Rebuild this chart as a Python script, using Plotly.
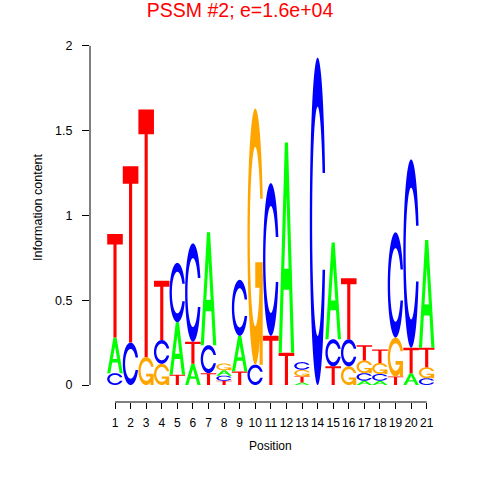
import numpy as np
import plotly.graph_objects as go

# ---------------- data (information content per letter, bits) ----------------
positions = list(range(1, 22))
bits_A = [0.21, 0, 0, 0, 0.31, 0.125, 0.665, 0.032, 0.21, 0, 0, 1.24, 0.015, 0, 0.57, 0, 0.025, 0.025, 0, 0.07, 0.635]
bits_C = [0.07, 0.25, 0, 0.14, 0.35, 0.58, 0.165, 0.03, 0.33, 0.12, 0.9, 0, 0.045, 1.93, 0.16, 0.16, 0.045, 0.04, 0.62, 1.11, 0.04]
bits_G = [0, 0, 0.165, 0.125, 0, 0, 0, 0.04, 0, 1.51, 0, 0, 0.04, 0, 0, 0.11, 0.075, 0.065, 0.23, 0, 0.065]
bits_T = [0.61, 1.04, 1.46, 0.35, 0.06, 0.13, 0.07, 0.025, 0.08, 0, 0.29, 0.19, 0.035, 0, 0.11, 0.36, 0.09, 0.08, 0.05, 0.15, 0.115]
y_ticks = [0, 0.5, 1, 1.5, 2]
y_ticklabels = ["0", "0.5", "1", "1.5", "2"]
title_text = "PSSM #2; e=1.6e+04"
x_title = "Position"
y_title = "Information content"

colors = {"A": "#00FF00", "C": "#0000FF", "G": "#FFA500", "T": "#FF0000"}
FONT = "Liberation Sans, Arial, Helvetica, sans-serif"


# ---------------- glyph outlines in a unit box ----------------
def ring():
    a1 = np.linspace(0.3 + np.pi / 2, np.pi, 100)
    a2 = np.linspace(np.pi, 1.5 * np.pi, 100)
    xl1, yl1 = 0.5 + 0.5 * np.sin(a1), 0.5 + 0.5 * np.cos(a1)
    xl2, yl2 = 0.5 + 0.5 * np.sin(a2), 0.5 + 0.5 * np.cos(a2)
    xl = np.concatenate([xl1, xl2]); yl = np.concatenate([yl1, yl2])
    x = np.concatenate([xl, xl[::-1]]); y = np.concatenate([yl, 1 - yl[::-1]])
    xi1, yi1 = 0.5 + 0.35 * np.sin(a1), 0.5 + 0.35 * np.cos(a1)
    ymax = yl1.max()
    keep = yi1 <= ymax
    xi1 = xi1[keep]; yi1 = yi1[keep].copy(); yi1[0] = ymax
    xi2, yi2 = 0.5 + 0.35 * np.sin(a2), 0.5 + 0.35 * np.cos(a2)
    xi = np.concatenate([xi1, xi2]); yi = np.concatenate([yi1, yi2])
    x1 = np.concatenate([xi, xi[::-1]]); y1 = np.concatenate([yi, 1 - yi[::-1]])
    x = np.concatenate([x, x1[::-1]]); y = np.concatenate([y, y1[::-1]])
    return [(x, y)], xl1.max()


def glyph(letter):
    if letter == "A":
        return [(np.array([0, 4, 6, 10, 8, 6.8, 3.2, 2, 0]) / 10, np.array([0, 10, 10, 0, 0, 3, 3, 0, 0]) / 10,
                 ), (np.array([3.6, 5, 6.4, 3.6]) / 10, np.array([4, 7.5, 4, 4]) / 10)], True
    if letter == "T":
        return [(np.array([0, 10, 10, 6, 6, 4, 4, 0]) / 10, np.array([10, 10, 9, 9, 0, 0, 9, 9]) / 10)], False
    if letter == "C":
        polys, _ = ring()
        return polys, False
    if letter == "G":
        polys, r1 = ring()
        h1 = 0.4
        xa = np.array([r1, 0.5, 0.5, r1 - 0.2, r1 - 0.2, r1, r1])
        ya = np.array([h1, h1, h1 - 0.1, h1 - 0.1, 0, 0, h1])
        return polys + [(xa, ya)], "separate"


def path_str(xs, ys):
    pts = " L ".join(f"{a:.4f},{b:.5f}" for a, b in zip(xs, ys))
    return "M " + pts + " Z"


shapes = []
letters = ["A", "C", "G", "T"]
table = {"A": bits_A, "C": bits_C, "G": bits_G, "T": bits_T}
for i, pos in enumerate(positions):
    hts = [table[L][i] for L in letters]
    order = np.argsort(hts, kind="stable")
    base = 0.0
    for k in order:
        L = letters[k]
        h = hts[k]
        if h <= 0:
            continue
        polys, mode = glyph(L)
        scaled = [(pos - 0.5 + px, base + h * py) for px, py in polys]
        if mode is True:  # A with hole -> single evenodd path
            p = " ".join(path_str(a, b) for a, b in scaled)
            shapes.append(dict(type="path", xref="x", yref="y", path=p, fillcolor=colors[L],
                               fillrule="evenodd", line=dict(width=0), layer="above"))
        else:
            for a, b in scaled:
                shapes.append(dict(type="path", xref="x", yref="y", path=path_str(a, b),
                                   fillcolor=colors[L], fillrule="evenodd", line=dict(width=0), layer="above"))
        base += h

# R-style axis lines (only across the tick range)
shapes.append(dict(type="line", xref="x", yref="paper", x0=positions[0], x1=positions[-1], y0=0, y1=0,
                   line=dict(color="black", width=1)))
shapes.append(dict(type="line", xref="paper", yref="y", x0=0, x1=0, y0=y_ticks[0], y1=y_ticks[-1],
                   line=dict(color="black", width=1)))

# ---------------- layout geometry ----------------
W, H = 480, 480
left, right_px, top_px, bottom_px = 90, 450, 40, 402
x_unit = 15.585   # px per position
y_unit = 169.6    # px per bit
y0_px = 385
x1_px = 115
xr = [positions[0] - (x1_px - left) / x_unit, positions[0] + (right_px - x1_px) / x_unit]
yr = [-(bottom_px - y0_px) / y_unit, (y0_px - top_px) / y_unit]

fig = go.Figure()
fig.add_trace(go.Scatter(x=[positions[0]], y=[0], mode="markers", marker=dict(opacity=0),
                         hoverinfo="skip", showlegend=False))
fig.update_layout(
    width=W, height=H,
    margin=dict(l=left, r=W - right_px, t=top_px, b=H - bottom_px, autoexpand=False),
    paper_bgcolor="white", plot_bgcolor="white",
    showlegend=False,
    shapes=shapes,
    font=dict(family=FONT, color="black", size=12),
    title=dict(text=title_text, x=0.5, xref="container", xanchor="center",
               y=1 - 10 / H, yref="container", yanchor="middle",
               font=dict(family=FONT, color="#FF0000", size=19.5)),
    xaxis=dict(range=xr, tickmode="array", tickvals=positions, ticktext=[str(p) for p in positions],
               ticks="outside", ticklen=6, tickcolor="black", tickwidth=1, showgrid=False,
               zeroline=False, showline=False, tickfont=dict(size=12, family=FONT, color="black"),
               tickangle=0, automargin=False,
               ticklabelstandoff=4, fixedrange=True),
    yaxis=dict(range=yr, tickmode="array", tickvals=y_ticks, ticktext=y_ticklabels,
               ticks="outside", ticklen=7, tickcolor="black", tickwidth=1, showgrid=False,
               zeroline=False, showline=False, tickfont=dict(size=12.5, family=FONT, color="black"),
               automargin=False, ticklabelstandoff=7, fixedrange=True),
    annotations=[
        dict(text=x_title, xref="paper", yref="paper", x=0.5, y=-(446 - bottom_px) / (bottom_px - top_px),
             xanchor="center", yanchor="middle", showarrow=False, font=dict(size=12, family=FONT)),
        dict(text=y_title, xref="paper", yref="paper", x=(38 - left) / (right_px - left),
             y=(bottom_px - 207) / (bottom_px - top_px), xanchor="center", yanchor="middle",
             textangle=-90, showarrow=False, font=dict(size=12.5, family=FONT)),
    ],
)
fig.write_html("out.html", config={"displayModeBar": False},
               post_script="document.body.style.margin='0';document.body.style.padding='0';")
